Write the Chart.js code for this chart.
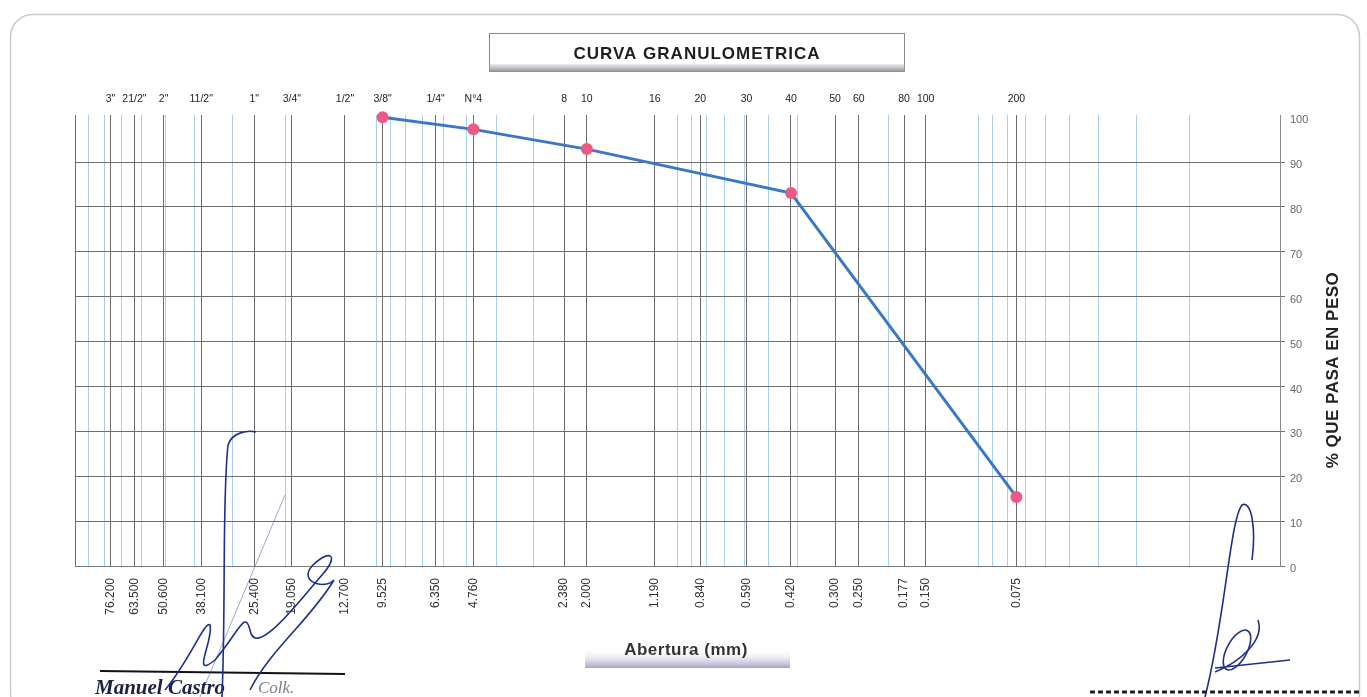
<!DOCTYPE html>
<html>
<head>
<meta charset="utf-8">
<title>Curva granulometrica</title>
<script src="https://cdn.jsdelivr.net/npm/chart.js@4.4.1/dist/chart.umd.min.js"></script>
<style>
    body { margin: 0; background: #ffffff; }
    #wrap { width: 1367px; height: 697px; }
</style>
</head>
<body>
<div id="wrap"><canvas id="granChart" width="1367" height="697"></canvas></div>
<script>
// sieve openings (mm) with their names on top and values below
const sieveSizes = [76.2, 63.5, 50.8, 38.1, 25.4, 19.05, 12.7, 9.525, 6.35, 4.76, 2.38, 2.0, 1.19, 0.84, 0.59, 0.42, 0.3, 0.25, 0.177, 0.15, 0.075];
const sieveNames = ['3"', '21/2"', '2"', '11/2"', '1"', '3/4"', '1/2"', '3/8"', '1/4"', 'N°4', '8', '10', '16', '20', '30', '40', '50', '60', '80', '100', '200'];
const mmLabels = ['76.200', '63.500', '50.600', '38.100', '25.400', '19.050', '12.700', '9.525', '6.350', '4.760', '2.380', '2.000', '1.190', '0.840', '0.590', '0.420', '0.300', '0.250', '0.177', '0.150', '0.075'];

// measured curve
const testSizes = [9.525, 4.76, 2.0, 0.42, 0.075];
const passing = [100.0, 97.3, 92.9, 83.1, 15.4];

const yTicks = [0, 10, 20, 30, 40, 50, 60, 70, 80, 90, 100];

// log grid lines 0.01 .. 100 mm plus the sieve lines
function buildGridValues() {
    const vals = new Set();
    for (let k = -2; k <= 1; k++) {
        for (let n = 1; n <= 9; n++) {
            vals.add(parseFloat((n * Math.pow(10, k)).toPrecision(3)));
        }
    }
    vals.add(100);
    sieveSizes.forEach(v => vals.add(v));
    return Array.from(vals).sort((a, b) => a - b);
}
const gridValues = buildGridValues();

const FONT = '"Liberation Sans", Arial, sans-serif';

const decorPlugin = {
    id: 'decor',
    beforeDraw(chart) {
        const ctx = chart.ctx;
        ctx.save();
        ctx.fillStyle = '#ffffff';
        ctx.fillRect(0, 0, chart.width, chart.height);
        // paper card
        ctx.strokeStyle = '#c9c9c9';
        ctx.lineWidth = 1.5;
        ctx.beginPath();
        ctx.roundRect(10.5, 14.5, 1349, 700, 22);
        ctx.stroke();
        ctx.restore();
    },
    afterDraw(chart) {
        const ctx = chart.ctx;
        ctx.save();

        // title box
        ctx.fillStyle = '#ffffff';
        ctx.fillRect(489, 33, 416, 39);
        ctx.strokeStyle = '#8a8a8a';
        ctx.lineWidth = 1;
        ctx.strokeRect(489.5, 33.5, 415, 38);
        const tg = ctx.createLinearGradient(0, 64, 0, 72);
        tg.addColorStop(0, 'rgba(160,160,170,0.2)');
        tg.addColorStop(1, '#8d8d95');
        ctx.fillStyle = tg;
        ctx.fillRect(490, 64, 415, 8);
        ctx.fillStyle = '#1e1e1e';
        ctx.font = 'bold 17px ' + FONT;
        ctx.letterSpacing = '1px';
        ctx.textAlign = 'center';
        ctx.textBaseline = 'middle';
        ctx.fillText('CURVA GRANULOMETRICA', 697, 54);

        // x axis title box
        const xg = ctx.createLinearGradient(0, 648, 0, 668);
        xg.addColorStop(0, 'rgba(255,255,255,0)');
        xg.addColorStop(1, '#a7a2c6');
        ctx.fillStyle = xg;
        ctx.fillRect(585, 648, 205, 20);
        ctx.fillStyle = '#333333';
        ctx.font = 'bold 17px ' + FONT;
        ctx.letterSpacing = '0.5px';
        ctx.fillText('Abertura (mm)', 686, 650);

        // y axis title
        ctx.save();
        ctx.translate(1333, 370);
        ctx.rotate(-Math.PI / 2);
        ctx.fillStyle = '#222222';
        ctx.font = 'bold 17px ' + FONT;
        ctx.letterSpacing = '0.5px';
        ctx.fillText('% QUE PASA EN PESO', 0, 0);
        ctx.restore();
        ctx.letterSpacing = '0px';

        // signature block, left
        ctx.strokeStyle = '#111111';
        ctx.lineWidth = 2;
        ctx.beginPath();
        ctx.moveTo(100, 671);
        ctx.lineTo(345, 674);
        ctx.stroke();
        ctx.textAlign = 'left';
        ctx.textBaseline = 'alphabetic';
        ctx.fillStyle = '#1b2140';
        ctx.font = 'italic bold 21px "Liberation Serif", "DejaVu Serif", serif';
        ctx.fillText('Manuel Castro', 95, 694);
        ctx.fillStyle = '#7a7f8f';
        ctx.font = 'italic 17px "Liberation Serif", serif';
        ctx.fillText('Colk.', 258, 693);

        ctx.strokeStyle = '#1f2f8a';
        ctx.lineWidth = 1.6;
        ctx.beginPath();
        ctx.moveTo(222, 697);
        ctx.bezierCurveTo(226, 600, 222, 500, 228, 445);
        ctx.bezierCurveTo(232, 432, 248, 430, 256, 432);
        ctx.stroke();
        ctx.beginPath();
        ctx.moveTo(165, 690);
        ctx.bezierCurveTo(190, 660, 205, 620, 210, 625);
        ctx.bezierCurveTo(214, 640, 190, 680, 215, 660);
        ctx.bezierCurveTo(240, 630, 245, 610, 250, 630);
        ctx.bezierCurveTo(255, 660, 300, 600, 322, 575);
        ctx.bezierCurveTo(340, 555, 330, 548, 312, 566);
        ctx.bezierCurveTo(298, 582, 325, 590, 334, 580);
        ctx.bezierCurveTo(310, 620, 270, 650, 250, 690);
        ctx.stroke();
        ctx.strokeStyle = 'rgba(60,80,170,0.5)';
        ctx.lineWidth = 1;
        ctx.beginPath();
        ctx.moveTo(200, 697);
        ctx.lineTo(285, 495);
        ctx.stroke();

        // signature block, right
        ctx.strokeStyle = '#1f2f8a';
        ctx.lineWidth = 1.6;
        ctx.beginPath();
        ctx.moveTo(1205, 697);
        ctx.bezierCurveTo(1225, 620, 1230, 520, 1242, 505);
        ctx.bezierCurveTo(1252, 500, 1256, 530, 1252, 560);
        ctx.stroke();
        ctx.beginPath();
        ctx.ellipse(1237, 650, 10, 22, 0.5, 0, Math.PI * 2);
        ctx.stroke();
        ctx.beginPath();
        ctx.moveTo(1215, 672);
        ctx.bezierCurveTo(1240, 662, 1265, 640, 1258, 620);
        ctx.moveTo(1215, 668);
        ctx.lineTo(1290, 660);
        ctx.stroke();
        ctx.strokeStyle = '#222222';
        ctx.lineWidth = 3;
        ctx.setLineDash([5, 3]);
        ctx.beginPath();
        ctx.moveTo(1090, 692);
        ctx.lineTo(1360, 692);
        ctx.stroke();
        ctx.setLineDash([]);

        ctx.restore();
    }
};

const ctx = document.getElementById('granChart').getContext('2d');

const granChart = new Chart(ctx, {
    type: 'line',
    data: {
        datasets: [{
            label: 'Curva',
            data: testSizes.map((s, i) => ({ x: s, y: passing[i] })),
            borderColor: '#3a78c6',
            borderWidth: 3,
            pointBackgroundColor: '#ea5a84',
            pointBorderColor: '#ea5a84',
            pointBorderWidth: 0,
            pointRadius: 6,
            tension: 0,
            clip: false
        }]
    },
    options: {
        responsive: false,
        animation: false,
        layout: { padding: { left: 75, right: 0, top: 80, bottom: 0 } },
        plugins: {
            legend: { display: false },
            tooltip: { enabled: false },
            title: { display: false }
        },
        scales: {
            x: {
                type: 'logarithmic',
                position: 'bottom',
                reverse: true,
                min: 0.01,
                max: 100,
                afterBuildTicks: scale => { scale.ticks = gridValues.map(v => ({ value: v })); },
                afterFit: scale => { scale.height = 131; },
                grid: {
                    drawTicks: false,
                    lineWidth: 1,
                    color: c => (c.tick && (sieveSizes.includes(c.tick.value) || c.tick.value === 100)) ? '#6e6e6e' : '#a9cfee'
                },
                border: { display: true, color: '#7a7a7a', width: 1 },
                ticks: {
                    autoSkip: false,
                    minRotation: 90,
                    maxRotation: 90,
                    padding: 12,
                    color: '#333333',
                    font: { family: FONT, size: 12 },
                    callback: value => {
                        const i = sieveSizes.indexOf(value);
                        return i >= 0 ? mmLabels[i] : '';
                    }
                }
            },
            xTop: {
                type: 'logarithmic',
                position: 'top',
                reverse: true,
                min: 0.01,
                max: 100,
                afterBuildTicks: scale => { scale.ticks = sieveSizes.map(v => ({ value: v })); },
                afterFit: scale => { scale.height = 35; },
                grid: { display: false, drawOnChartArea: false },
                border: { display: false },
                ticks: {
                    autoSkip: false,
                    maxRotation: 0,
                    minRotation: 0,
                    padding: 2,
                    color: '#222222',
                    font: { family: FONT, size: 10.5 },
                    callback: value => {
                        const i = sieveSizes.indexOf(value);
                        return i >= 0 ? sieveNames[i] : '';
                    }
                }
            },
            y: {
                type: 'linear',
                position: 'right',
                min: 0,
                max: 100.5,
                afterBuildTicks: scale => { scale.ticks = yTicks.map(v => ({ value: v })); },
                afterFit: scale => { scale.width = 87; },
                grid: {
                    tickLength: 5,
                    lineWidth: 1,
                    color: c => (c.tick && c.tick.value === 100) ? 'rgba(0,0,0,0)' : '#6e6e6e'
                },
                border: { display: true, color: '#8a8a8a', width: 1 },
                ticks: {
                    padding: 5,
                    labelOffset: 3,
                    color: '#666666',
                    font: { family: FONT, size: 11 },
                    callback: v => v
                }
            }
        }
    },
    plugins: [decorPlugin]
});
</script>
</body>
</html>
